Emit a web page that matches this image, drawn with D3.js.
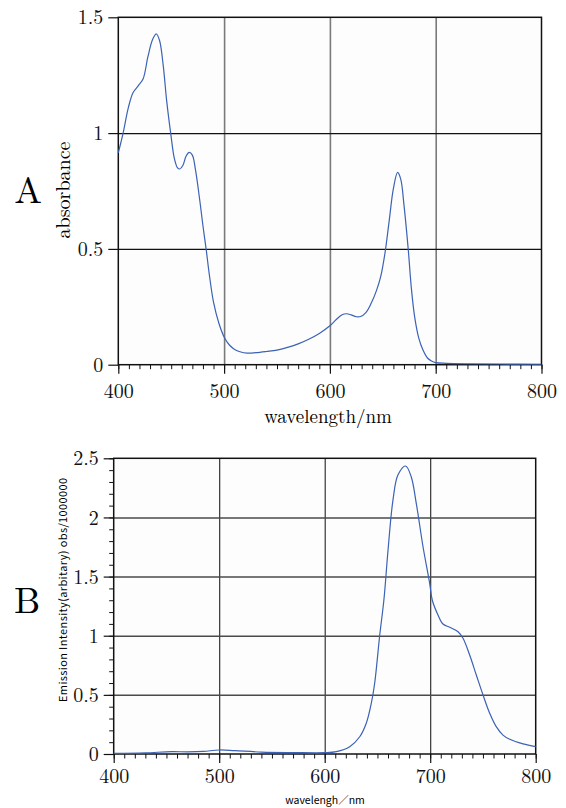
<!DOCTYPE html>
<html>
<head>
<meta charset="utf-8">
<script src="https://cdn.jsdelivr.net/npm/d3@7"></script>
<style>
  body { margin: 0; background: #fff; }
  .domain { display: none; }
</style>
</head>
<body>
<div id="chart"></div>
<script>
// ---- data ----
// A: absorption spectrum
var absWavelength = [400, 403, 405, 409.5, 414, 419, 423.5, 428, 432.5, 436, 439, 442.5, 445.7, 449.5, 453, 456, 458, 461, 464, 467, 470, 473, 477, 480, 483, 486, 490, 495, 500, 505, 510, 515, 522, 530, 540, 550, 560, 570, 580, 590, 600, 606, 612, 616, 620, 625, 629, 634, 639, 644, 648, 652, 656, 660, 664, 667, 670, 674, 677, 680, 684, 688, 692, 696, 700, 710, 730, 760, 800];
var absValue = [0.915, 0.97, 1.01, 1.11, 1.175, 1.205, 1.235, 1.33, 1.405, 1.428, 1.40, 1.29, 1.14, 1.00, 0.89, 0.85, 0.845, 0.86, 0.90, 0.917, 0.905, 0.84, 0.71, 0.60, 0.50, 0.39, 0.27, 0.18, 0.12, 0.085, 0.066, 0.056, 0.05, 0.052, 0.057, 0.063, 0.075, 0.09, 0.11, 0.135, 0.168, 0.195, 0.217, 0.22, 0.215, 0.207, 0.208, 0.225, 0.265, 0.32, 0.38, 0.48, 0.62, 0.76, 0.83, 0.80, 0.69, 0.50, 0.33, 0.21, 0.115, 0.063, 0.03, 0.016, 0.009, 0.006, 0.004, 0.003, 0.002];

// B: emission spectrum
var emWavelength = [400, 430, 455, 470, 485, 500, 515, 540, 570, 600, 611, 623.7, 633.2, 639.4, 644.2, 647.4, 652.1, 656.2, 660, 664.7, 669.5, 676.7, 682, 686.8, 693.2, 699.5, 702, 707.4, 712.1, 718.5, 726.4, 731.1, 737.4, 743.7, 750, 756.4, 762.6, 769, 775.4, 788, 800];
var emValue = [0.005, 0.01, 0.02, 0.018, 0.022, 0.034, 0.028, 0.016, 0.012, 0.011, 0.02, 0.062, 0.146, 0.26, 0.43, 0.60, 1.00, 1.31, 1.72, 2.147, 2.36, 2.435, 2.344, 2.119, 1.752, 1.443, 1.30, 1.175, 1.099, 1.071, 1.034, 0.978, 0.837, 0.668, 0.501, 0.344, 0.231, 0.16, 0.124, 0.085, 0.062];

// tick values
var xTicks = [400, 500, 600, 700, 800];
var xMinor = d3.range(400, 801, 10);
var absTicks = [0, 0.5, 1, 1.5];
var emTicks = [0, 0.5, 1, 1.5, 2, 2.5];
var emMinor = d3.range(0, 2.51, 0.1);

var svgWidth = 566;
var svgHeight = 808;
var lineColor = "#3b62b5";
var serifFont = "Latin Modern Roman, Liberation Serif, serif";
var gothicFont = "Noto Sans CJK JP, sans-serif";

var svg = d3.select("#chart")
    .append("svg")
    .attr("width", svgWidth)
    .attr("height", svgHeight);

// draws one panel; box = plot rectangle in page pixels
function drawPanel(opt) {
  var box = opt.box;
  var width = box.right - box.left;
  var height = box.bottom - box.top;
  var g = svg.append("g")
      .attr("transform", `translate(${box.left}, ${box.top})`);

  var x = d3.scaleLinear().domain([400, 800]).range([0, width]);
  var y = d3.scaleLinear().domain(opt.yDomain).range([height, 0]);

  g.append("rect")
      .attr("width", width)
      .attr("height", height)
      .attr("fill", "#fdfdfd");

  // grid: vertical
  g.append("g")
      .attr("transform", `translate(0, ${height})`)
      .call(d3.axisBottom(x).tickValues(xTicks.slice(1, -1)).tickSize(-height).tickFormat(""))
      .selectAll("line")
      .attr("stroke", opt.vGrid.color)
      .attr("stroke-width", opt.vGrid.width);
  // grid: horizontal
  g.append("g")
      .call(d3.axisLeft(y).tickValues(opt.yTicks.slice(1, -1)).tickSize(-width).tickFormat(""))
      .selectAll("line")
      .attr("stroke", opt.hGrid.color)
      .attr("stroke-width", opt.hGrid.width);

  // minor ticks
  g.append("g")
      .attr("transform", `translate(0, ${height})`)
      .call(d3.axisBottom(x).tickValues(xMinor).tickSize(4.5).tickFormat(""))
      .selectAll("line").attr("stroke", "#111").attr("stroke-width", 1);
  if (opt.yMinor) {
    g.append("g")
        .call(d3.axisLeft(y).tickValues(opt.yMinor).tickSize(4.5).tickFormat(""))
        .selectAll("line").attr("stroke", "#111").attr("stroke-width", 1);
  }

  // major axes
  var xAxis = g.append("g")
      .attr("transform", `translate(0, ${height})`)
      .call(d3.axisBottom(x).tickValues(xTicks).tickSize(9).tickPadding(opt.xPad).tickFormat(d3.format("d")));
  xAxis.selectAll("line").attr("stroke", "#111").attr("stroke-width", 1.2);
  xAxis.selectAll("text")
      .attr("font-family", serifFont).attr("font-size", 20).attr("fill", "#111");

  var yAxis = g.append("g")
      .call(d3.axisLeft(y).tickValues(opt.yTicks).tickSize(10).tickPadding(5).tickFormat(d => d));
  yAxis.selectAll("line").attr("stroke", "#111").attr("stroke-width", 1.2);
  yAxis.selectAll("text")
      .attr("font-family", serifFont).attr("font-size", 20).attr("fill", "#111")
      .attr("dy", "0.33em");

  // frame
  g.append("rect")
      .attr("width", width)
      .attr("height", height)
      .attr("fill", "none")
      .attr("stroke", "#111")
      .attr("stroke-width", 1.5);

  // spectrum
  var line = d3.line()
      .x(d => x(d[0]))
      .y(d => y(d[1]))
      .curve(d3.curveCatmullRom.alpha(0.5));
  g.append("path")
      .datum(d3.zip(opt.xs, opt.ys))
      .attr("d", line)
      .attr("fill", "none")
      .attr("stroke", lineColor)
      .attr("stroke-width", 1.2);
}

// ** panel A **
drawPanel({
  box: { left: 118.3, right: 541.5, top: 17.3, bottom: 364.7 },
  yDomain: [0, 1.5],
  yTicks: absTicks,
  yMinor: null,
  xPad: 10,
  vGrid: { color: "#7a7a7a", width: 1.6 },
  hGrid: { color: "#111", width: 1.2 },
  xs: absWavelength,
  ys: absValue
});

// ** panel B **
drawPanel({
  box: { left: 113.7, right: 535.7, top: 458.3, bottom: 754 },
  yDomain: [0, 2.5],
  yTicks: emTicks,
  yMinor: emMinor,
  xPad: 6,
  vGrid: { color: "#222", width: 1.1 },
  hGrid: { color: "#4a4a4a", width: 1.5 },
  xs: emWavelength,
  ys: emValue
});

// ** labels **
svg.append("text")
    .attr("x", 28).attr("y", 203)
    .attr("text-anchor", "middle")
    .attr("font-family", serifFont).attr("font-size", 37)
    .text("A");
svg.append("text")
    .attr("transform", "translate(70, 190) rotate(-90)")
    .attr("text-anchor", "middle")
    .attr("font-family", serifFont).attr("font-size", 20)
    .text("absorbance");
svg.append("text")
    .attr("x", 328).attr("y", 423)
    .attr("text-anchor", "middle")
    .attr("font-family", serifFont).attr("font-size", 19)
    .text("wavelength/nm");

svg.append("text")
    .attr("x", 27).attr("y", 613)
    .attr("text-anchor", "middle")
    .attr("font-family", serifFont).attr("font-size", 37)
    .text("B");
svg.append("text")
    .attr("transform", "translate(67, 590) rotate(-90)")
    .attr("text-anchor", "middle")
    .attr("font-family", gothicFont).attr("font-size", 11)
    .attr("textLength", 224)
    .text("Emission Intensity(arbitary) obs/1000000");
svg.append("text")
    .attr("x", 325).attr("y", 804)
    .attr("text-anchor", "middle")
    .attr("font-family", gothicFont).attr("font-size", 10.5)
    .text("wavelengh／nm");
</script>
</body>
</html>
